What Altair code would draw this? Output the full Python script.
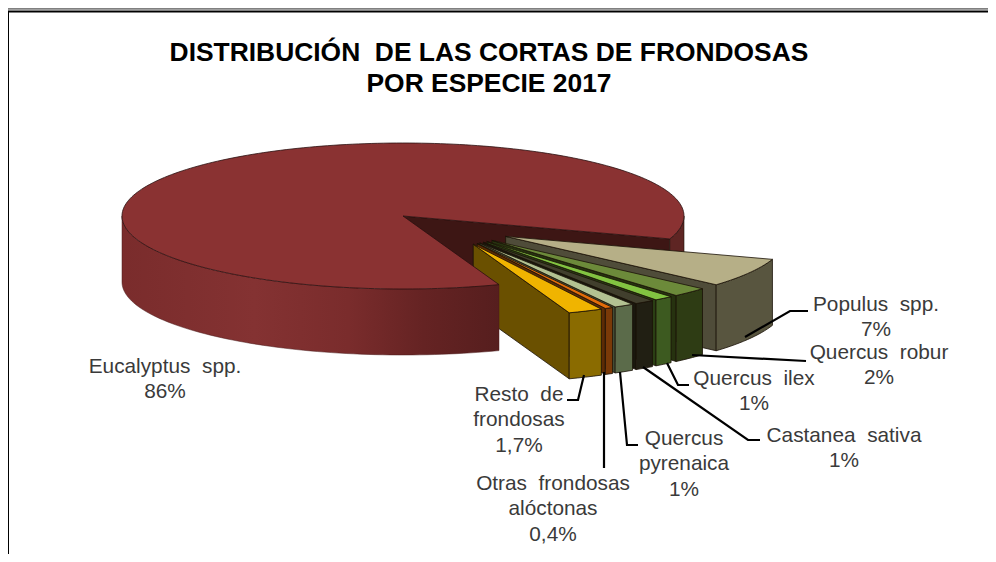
import math
import altair as alt
import pandas as pd

# ---- data ----
species = ["Populus spp.", "Quercus robur", "Quercus ilex", "Castanea sativa",
           "Quercus pyrenaica", "Otras frondosas alóctonas", "Resto de frondosas", "Eucalyptus spp."]
shares = [7, 2, 1, 1, 1, 0.4, 1.7, 86]
top_colors = ["#b6af87", "#6c8a3a", "#82c341", "#413f2d", "#b3c292", "#e36c09", "#f0b400", "#8a3232"]
arc_colors = ["#58553f", "#2e3c14", "#3d5a20", "#211f13", "#5b6b4a", "#7a3a08", "#8a6b00", "#5e2523"]
radial_colors = ["#4f4c39", "#26320f", "#2a3f14", "#1a180e", "#46533a", "#5c2b05", "#6a5000", "#3d1614"]

title_lines = ["DISTRIBUCIÓN\u00a0 DE LAS CORTAS DE FRONDOSAS", "POR ESPECIE 2017"]
label_lines = [
    ["Eucalyptus\u00a0 spp.", "86%"],
    ["Populus\u00a0 spp.", "7%"],
    ["Quercus\u00a0 robur", "2%"],
    ["Quercus\u00a0 ilex", "1%"],
    ["Castanea\u00a0 sativa", "1%"],
    ["Quercus", "pyrenaica", "1%"],
    ["Otras\u00a0 frondosas", "alóctonas", "0,4%"],
    ["Resto\u00a0 de", "frondosas", "1,7%"],
]
# ---- layout ----
label_cx = [165, 876, 879, 754, 844, 684, 553, 519]
label_cy = [367, 304.5, 353, 379, 436, 439, 484, 395]
LINE_H = 25.4
leaders = [
    [(745, 337), (790, 311), (808, 311)],
    [(692, 355), (806, 361)],
    [(667, 363), (678, 385), (689, 385)],
    [(643, 367), (748, 440), (760, 440)],
    [(620, 372), (627, 445), (638, 445)],
    [(604, 372), (604, 468)],
    [(584, 375), (578, 400), (567, 400)],
]
CX, CY, RX, RY, DEPTH = 403, 216, 281, 73, 66
START = 18.3
EXPLODE = 0.46
SPREAD = 1.02


def rim(cx, cy, a, dy=0):
    r = math.radians(a)
    return (cx + RX * math.cos(r), cy + RY * math.sin(r) + dy)


def arc(cx, cy, a0, a1, dy=0, n=None):
    n = n or max(2, int(abs(a1 - a0) / 1.5) + 1)
    return [rim(cx, cy, a0 + (a1 - a0) * i / (n - 1), dy) for i in range(n)]


X = alt.X("x:Q", scale=alt.Scale(domain=[8, 988], nice=False, zero=False), axis=None)
Y = alt.Y("y:Q", scale=alt.Scale(domain=[554, 8], nice=False, zero=False), axis=None)


def poly(pts, fill, stroke="#1a1208", sw=0.8):
    pts = list(pts) + [pts[0]]
    df = pd.DataFrame({"x": [p[0] for p in pts], "y": [p[1] for p in pts], "i": range(len(pts))})
    return alt.Chart(df).mark_line(fill=fill, stroke=stroke, strokeWidth=sw, interpolate="linear").encode(
        x=X, y=Y, order=alt.Order("i:Q"))


total = sum(shares)
angles = [s / total * 360 * SPREAD for s in shares[:-1]]
layers = []

# main slice, back parts
a_end = START + sum(angles)


def warp(angle):
    # the perspective of the original squeezes the exploded fan in its middle
    return angle - 2.5 * math.sin(math.pi * (angle - START) / (a_end - START))


back = [rim(CX, CY, START), (CX, CY), (CX, CY + DEPTH), rim(CX, CY, START, DEPTH)]
layers.append(poly(back, radial_colors[7], sw=0.6))
right = arc(CX, CY, START, 0) + arc(CX, CY, 0, START, DEPTH)
layers.append(poly(right, arc_colors[7], sw=0.6))

# exploded slices, back to front
a = START
for k in range(7):
    a0, a1 = a, a + angles[k]
    a = a1
    bis = (a0 + a1) / 2
    d = math.radians(36.8 + (bis - 30) * 0.55)
    ax = CX + EXPLODE * RX * math.cos(d)
    ay = CY + EXPLODE * RY * math.sin(d)
    w0, w1 = warp(a0), warp(a1)
    layers.append(poly([(ax, ay), rim(ax, ay, w1), rim(ax, ay, w1, DEPTH), (ax, ay + DEPTH)], radial_colors[k]))
    layers.append(poly(arc(ax, ay, w0, w1) + arc(ax, ay, w1, w0, DEPTH), arc_colors[k]))
    layers.append(poly([(ax, ay)] + arc(ax, ay, w0, w1), top_colors[k]))

# main slice, front parts
grad = alt.Gradient(gradient="linear", x1=0, x2=1, y1=0, y2=0, stops=[
    alt.GradientStop(color="#7a2c2c", offset=0),
    alt.GradientStop(color="#843232", offset=0.35),
    alt.GradientStop(color="#7a2c2c", offset=0.6),
    alt.GradientStop(color="#652323", offset=0.8),
    alt.GradientStop(color="#561e1e", offset=1),
])
layers.append(poly(arc(CX, CY, a_end, 180) + arc(CX, CY, 180, a_end, DEPTH), grad, stroke="#4a1a1a", sw=0.5))
layers.append(poly([(CX, CY)] + arc(CX, CY, a_end, START + 360, n=240), top_colors[7], stroke="#2a1010", sw=0.8))

# leader lines
for pts in leaders:
    df = pd.DataFrame({"x": [p[0] for p in pts], "y": [p[1] for p in pts], "i": range(len(pts))})
    layers.append(alt.Chart(df).mark_line(color="#000000", strokeWidth=2.2).encode(x=X, y=Y, order=alt.Order("i:Q")))

# labels
rows = []
for lines, cx, cy in zip(label_lines, label_cx, label_cy):
    for j, t in enumerate(lines):
        rows.append({"x": cx, "y": cy + j * LINE_H, "t": t})
layers.append(alt.Chart(pd.DataFrame(rows)).mark_text(
    font="Liberation Sans", fontSize=20.8, color="#3a3a3a", align="center", baseline="middle"
).encode(x=X, y=Y, text="t:N"))

# frame
layers.append(alt.Chart(pd.DataFrame({"x": [8, 8, 988], "y": [554, 11.5, 11.5], "i": [0, 1, 2]})).mark_line(
    color="#000000", strokeWidth=2).encode(x=X, y=Y, order=alt.Order("i:Q")))
layers.append(alt.Chart(pd.DataFrame({"x": [8, 988], "y": [8.8, 8.8], "i": [0, 1]})).mark_line(
    color="#808080", strokeWidth=2).encode(x=X, y=Y, order=alt.Order("i:Q")))

chart = alt.layer(*layers).properties(
    width=980, height=546, padding=0, autosize=alt.AutoSizeParams(type="none"),
    title=alt.TitleParams(text=title_lines, anchor="middle", font="Liberation Sans", fontSize=26.4,
                          fontWeight="bold", color="#000000", baseline="alphabetic",
                          lineHeight=31, dx=-9, dy=114, offset=0),
).configure_view(stroke=None).configure(background="#ffffff")

chart.save("out.html", embed_options={"renderer": "svg", "actions": False})
